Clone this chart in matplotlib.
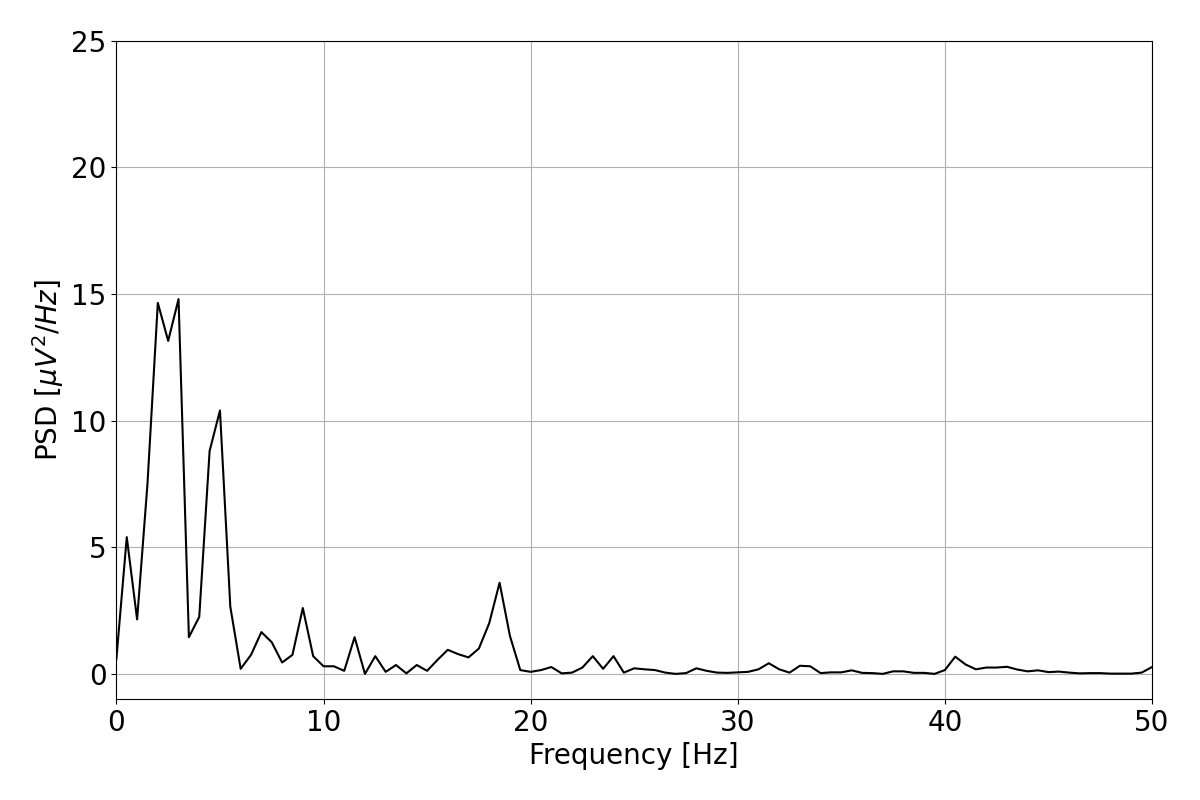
import numpy as np
import matplotlib.pyplot as plt

freqs = np.arange(0, 50.5, 0.5)  # Hz
psd = [0.6, 5.4, 2.15, 7.5, 14.65, 13.15, 14.8, 1.45, 2.25, 8.8,
       10.4, 2.65, 0.2, 0.75, 1.65, 1.25, 0.45, 0.75, 2.6, 0.7,
       0.3, 0.3, 0.12, 1.45, 0.0, 0.7, 0.08, 0.35, 0.02, 0.35,
       0.12, 0.55, 0.95, 0.78, 0.65, 1.0, 2.0, 3.6, 1.5, 0.15,
       0.08, 0.15, 0.27, 0.02, 0.05, 0.25, 0.7, 0.2, 0.7, 0.05,
       0.22, 0.18, 0.15, 0.05, 0.0, 0.03, 0.22, 0.12, 0.05, 0.04,
       0.06, 0.08, 0.18, 0.42, 0.18, 0.05, 0.32, 0.3, 0.03, 0.06,
       0.06, 0.14, 0.04, 0.03, 0.0, 0.1, 0.1, 0.04, 0.04, 0.0,
       0.15, 0.68, 0.37, 0.18, 0.25, 0.25, 0.28, 0.17, 0.1, 0.14,
       0.07, 0.09, 0.05, 0.02, 0.03, 0.03, 0.01, 0.01, 0.01, 0.05,
       0.27]

plt.rcParams['font.size'] = 20

fig, ax = plt.subplots(figsize=(12, 8), dpi=100)
fig.subplots_adjust(left=0.097, right=0.96, top=0.949, bottom=0.126)
ax.plot(freqs, psd, color='k', lw=1.5)
ax.set_xlim(0, 50)
ax.set_ylim(-1, 25)
ax.set_xlabel('Frequency [Hz]')
ax.set_ylabel(r'PSD [$\mu V^2/Hz$]')
ax.grid(True)

plt.savefig('out.png')
